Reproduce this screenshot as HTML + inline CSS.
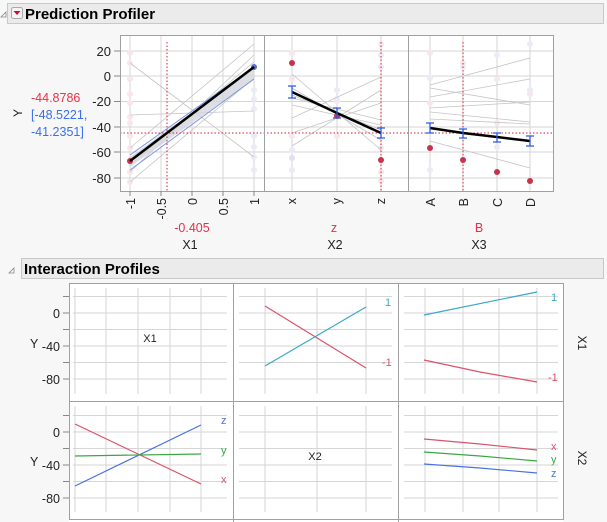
<!DOCTYPE html>
<html><head><style>
body{margin:0;background:#f7f7f7;}
svg{display:block;font-family:"Liberation Sans",sans-serif;}
</style></head><body>
<svg width="607" height="522" viewBox="0 0 607 522" xmlns="http://www.w3.org/2000/svg">
<rect width="607" height="522" fill="#f7f7f7"/>
<!-- header 1 -->
<rect x="7.5" y="3.5" width="596" height="20" fill="#ebebeb" stroke="#c8c8c8"/>
<path d="M1 17 L6 12 L6 17 Z" fill="none" stroke="#888" stroke-width="0.8"/>
<rect x="11.5" y="7.5" width="11" height="11" rx="2" fill="#f4f4f4" stroke="#aaa"/>
<path d="M13.5 11 L20.5 11 L17 15 Z" fill="#c8102e"/>
<text x="25" y="19" font-size="15" font-weight="bold" fill="#000">Prediction Profiler</text>

<!-- profiler plot frames -->
<rect x="120" y="35" width="433" height="156" fill="#fff"/>
<g stroke="#d6d6d6" stroke-width="1">
<line x1="120" y1="51" x2="553" y2="51"/><line x1="120" y1="76" x2="553" y2="76"/>
<line x1="120" y1="101.5" x2="553" y2="101.5"/><line x1="120" y1="127" x2="553" y2="127"/>
<line x1="120" y1="152" x2="553" y2="152"/><line x1="120" y1="178" x2="553" y2="178"/>
<line x1="130" y1="35" x2="130" y2="191"/><line x1="161" y1="35" x2="161" y2="191"/><line x1="192" y1="35" x2="192" y2="191"/><line x1="223" y1="35" x2="223" y2="191"/><line x1="254" y1="35" x2="254" y2="191"/>
<line x1="292" y1="35" x2="292" y2="191"/><line x1="337" y1="35" x2="337" y2="191"/><line x1="381" y1="35" x2="381" y2="191"/>
<line x1="430" y1="35" x2="430" y2="191"/><line x1="463" y1="35" x2="463" y2="191"/><line x1="497" y1="35" x2="497" y2="191"/><line x1="530" y1="35" x2="530" y2="191"/>
</g>
<!-- faint points -->
<g fill="#f7e6ea">
<circle cx="130" cy="53" r="3"/><circle cx="130" cy="63" r="3"/><circle cx="130" cy="79" r="3"/><circle cx="130" cy="94" r="3"/><circle cx="130" cy="103" r="3"/><circle cx="130" cy="117" r="3"/><circle cx="130" cy="123" r="3"/><circle cx="130" cy="136" r="3"/><circle cx="130" cy="148" r="3"/><circle cx="130" cy="172" r="3"/><circle cx="130" cy="182" r="3"/>
<circle cx="292" cy="53" r="3"/><circle cx="292" cy="79" r="3"/><circle cx="292" cy="136" r="3"/><circle cx="337" cy="101" r="3"/><circle cx="337" cy="136" r="3"/><circle cx="381" cy="148" r="3"/><circle cx="381" cy="172" r="3"/><circle cx="381" cy="181" r="3"/>
<circle cx="430" cy="53" r="3"/><circle cx="430" cy="103" r="3"/><circle cx="463" cy="63" r="3"/><circle cx="497" cy="79" r="3"/><circle cx="497" cy="123" r="3"/><circle cx="530" cy="94" r="3"/>
</g>
<g fill="#eaebf6">
<circle cx="254" cy="90" r="3"/><circle cx="254" cy="99" r="3"/><circle cx="254" cy="109" r="3"/><circle cx="254" cy="136" r="3"/><circle cx="254" cy="147" r="3"/><circle cx="254" cy="157" r="3"/><circle cx="254" cy="170" r="3"/>
<circle cx="292" cy="150" r="3"/><circle cx="292" cy="170" r="3"/><circle cx="337" cy="90" r="3"/><circle cx="337" cy="99" r="3"/><circle cx="381" cy="44" r="3"/><circle cx="381" cy="55" r="3"/><circle cx="381" cy="67" r="3"/>
<circle cx="430" cy="78" r="3"/><circle cx="430" cy="170" r="3"/><circle cx="463" cy="67" r="3"/><circle cx="497" cy="55" r="3"/><circle cx="497" cy="147" r="3"/><circle cx="530" cy="44" r="3"/><circle cx="530" cy="90" r="3"/>
<circle cx="292" cy="158" r="3" fill="#dfe2f3"/>
</g>
<!-- gray lines -->
<g stroke="#c4c4c4" stroke-width="0.8">
<line x1="130" y1="63" x2="254" y2="157"/><line x1="130" y1="115" x2="254" y2="111"/>
<line x1="130" y1="148" x2="254" y2="44"/><line x1="130" y1="172" x2="254" y2="55"/><line x1="130" y1="182" x2="254" y2="78"/><line x1="130" y1="158" x2="254" y2="68"/><line x1="130" y1="165" x2="254" y2="62"/>
<line x1="292" y1="74" x2="381" y2="150"/><line x1="292" y1="118" x2="381" y2="77"/><line x1="292" y1="146" x2="381" y2="90"/><line x1="292" y1="98" x2="381" y2="120"/><line x1="292" y1="105" x2="381" y2="125"/><line x1="292" y1="88" x2="381" y2="140"/><line x1="292" y1="95" x2="381" y2="130"/><line x1="292" y1="133" x2="381" y2="103"/>
<line x1="430" y1="85" x2="530" y2="58"/><line x1="430" y1="88" x2="530" y2="105"/><line x1="430" y1="97" x2="530" y2="79"/><line x1="430" y1="108" x2="530" y2="102"/><line x1="430" y1="112" x2="530" y2="122"/><line x1="430" y1="119" x2="530" y2="124"/><line x1="430" y1="141" x2="530" y2="168"/><line x1="430" y1="128" x2="530" y2="141"/>
</g>
<!-- confidence band panel1 -->
<polygon points="130,157 254,68 254,79 130,167" fill="#d4d6dc" opacity="0.8"/>
<line x1="130" y1="155" x2="254" y2="67" stroke="#7b96e0" stroke-width="1"/>
<line x1="130" y1="170" x2="254" y2="79" stroke="#7b96e0" stroke-width="1"/>
<!-- dotted crosshairs -->
<g stroke="#d0203a" stroke-width="1" stroke-dasharray="1.5,2">
<line x1="120" y1="133" x2="553" y2="133"/>
<line x1="167" y1="42" x2="167" y2="191"/>
<line x1="381" y1="42" x2="381" y2="191"/>
<line x1="463" y1="42" x2="463" y2="191"/>
</g>
<!-- red points -->
<g fill="#c8324a"><circle cx="130" cy="161" r="3"/><circle cx="292" cy="63" r="3"/><circle cx="337" cy="116" r="3"/><circle cx="381" cy="160" r="3"/><circle cx="430" cy="148" r="3"/><circle cx="463" cy="160" r="3"/><circle cx="497" cy="172" r="3"/><circle cx="530" cy="181" r="3"/></g>
<circle cx="254" cy="67" r="3" fill="#5a6fd0"/>
<!-- black lines -->
<g stroke="#000" stroke-width="2.5" fill="none">
<line x1="130" y1="161" x2="254" y2="67"/>
<polyline points="292,92 337,113 381,133"/>
<polyline points="430,128 463,133 497,137 530,141"/>
</g>
<!-- error bars -->
<g stroke="#2a5be8" stroke-width="1.3" fill="none">
<path d="M292 86V98M288 86H296M288 98H296"/>
<path d="M337 108V118M333 108H341M333 118H341"/>
<path d="M381 128V138M377 128H385M377 138H385"/>
<path d="M430 123V133M426 123H434M426 133H434"/>
<path d="M463 129V138M459 129H467M459 138H467"/>
<path d="M497 133V142M493 133H501M493 142H501"/>
<path d="M530 136V146M526 136H534M526 146H534"/>
</g>
<!-- frames -->
<g fill="none" stroke="#a0a0a0" stroke-width="1">
<rect x="120.5" y="35.5" width="433" height="156"/>
<line x1="264.5" y1="35" x2="264.5" y2="191"/><line x1="408.5" y1="35" x2="408.5" y2="191"/>
</g>
<!-- y ticks -->
<g stroke="#888"><line x1="114" y1="51" x2="120" y2="51"/><line x1="114" y1="76" x2="120" y2="76"/><line x1="114" y1="101.5" x2="120" y2="101.5"/><line x1="114" y1="127" x2="120" y2="127"/><line x1="114" y1="152" x2="120" y2="152"/><line x1="114" y1="178" x2="120" y2="178"/>
<line x1="130" y1="191" x2="130" y2="196"/><line x1="161" y1="191" x2="161" y2="196"/><line x1="192" y1="191" x2="192" y2="196"/><line x1="223" y1="191" x2="223" y2="196"/><line x1="254" y1="191" x2="254" y2="196"/></g>
<g font-size="13" fill="#222" text-anchor="end">
<text x="111" y="56">20</text><text x="111" y="81">0</text><text x="111" y="106">-20</text><text x="111" y="132">-40</text><text x="111" y="157">-60</text><text x="111" y="183">-80</text>
</g>
<text transform="translate(22,113) rotate(-90)" font-size="12" text-anchor="middle" fill="#222">Y</text>
<text x="31" y="102" font-size="12.5" fill="#e8304a">-44.8786</text>
<text x="31" y="119" font-size="12.5" fill="#3a6ff0">[-48.5221,</text>
<text x="31" y="136" font-size="12.5" fill="#3a6ff0">-41.2351]</text>
<!-- rotated x tick labels -->
<g font-size="12.5" fill="#222" text-anchor="end">
<text transform="translate(135,198) rotate(-90)">-1</text>
<text transform="translate(166,198) rotate(-90)">-0.5</text>
<text transform="translate(197,198) rotate(-90)">0</text>
<text transform="translate(228,198) rotate(-90)">0.5</text>
<text transform="translate(259,198) rotate(-90)">1</text>
<text transform="translate(296,198) rotate(-90)">x</text>
<text transform="translate(341,198) rotate(-90)">y</text>
<text transform="translate(385,198) rotate(-90)">z</text>
<text transform="translate(435,198) rotate(-90)">A</text>
<text transform="translate(468,198) rotate(-90)">B</text>
<text transform="translate(502,198) rotate(-90)">C</text>
<text transform="translate(535,198) rotate(-90)">D</text>
</g>
<g font-size="12.5" text-anchor="middle">
<text x="192" y="232" fill="#e8304a">-0.405</text><text x="334" y="232" fill="#e8304a">z</text><text x="479" y="232" fill="#e8304a">B</text>
<text x="190" y="249" fill="#222">X1</text><text x="335" y="249" fill="#222">X2</text><text x="479" y="249" fill="#222">X3</text>
</g>

<!-- header 2 -->
<rect x="21.5" y="258.5" width="582" height="20" fill="#ebebeb" stroke="#c8c8c8"/>
<path d="M9 273 L14 268 L14 273 Z" fill="none" stroke="#888" stroke-width="0.8"/>
<text x="24" y="274" font-size="15" font-weight="bold" fill="#000">Interaction Profiles</text>

<!-- interaction grid -->
<rect x="69" y="283" width="494" height="239" fill="#fff"/>
<g stroke="#d6d6d6" stroke-width="1">
<path d="M73 296.5H227M73 313H227M73 329.5H227M73 346H227M73 362.5H227M73 379H227"/>
<path d="M239 296.5H392M239 313H392M239 329.5H392M239 346H392M239 362.5H392M239 379H392"/>
<path d="M404 296.5H558M404 313H558M404 329.5H558M404 346H558M404 362.5H558M404 379H558"/>
<path d="M73 415.5H227M73 432H227M73 448.5H227M73 465H227M73 481.5H227M73 498H227"/>
<path d="M239 415.5H392M239 432H392M239 448.5H392M239 465H392M239 481.5H392M239 498H392"/>
<path d="M404 415.5H558M404 432H558M404 448.5H558M404 465H558M404 481.5H558M404 498H558"/>
<path d="M75 288V394M106 288V394M138 288V394M170 288V394M201 288V394M265 288V394M317 288V394M366 288V394M425 288V394M463 288V394M499 288V394M537 288V394"/>
<path d="M75 406V512M106 406V512M138 406V512M170 406V512M201 406V512M265 406V512M317 406V512M366 406V512M425 406V512M463 406V512M499 406V512M537 406V512"/>
</g>
<g fill="none" stroke="#a0a0a0">
<rect x="69.5" y="283.5" width="494" height="236"/>
<line x1="233.5" y1="283" x2="233.5" y2="522"/><line x1="398.5" y1="283" x2="398.5" y2="522"/>
<line x1="69" y1="401.5" x2="563" y2="401.5"/>
</g>
<g stroke="#888"><path d="M63 296.5H69M63 313H69M63 329.5H69M63 346H69M63 362.5H69M63 379H69M63 415.5H69M63 432H69M63 448.5H69M63 465H69M63 481.5H69M63 498H69"/></g>
<g font-size="12.5" fill="#222" text-anchor="end">
<text x="60" y="318">0</text><text x="60" y="351">-40</text><text x="60" y="384">-80</text>
<text x="60" y="437">0</text><text x="60" y="470">-40</text><text x="60" y="503">-80</text>
</g>
<text x="30" y="348" font-size="12.5" fill="#222">Y</text>
<text x="30" y="466" font-size="12.5" fill="#222">Y</text>
<text x="150" y="342" font-size="11" fill="#222" text-anchor="middle">X1</text>
<text x="315" y="460" font-size="11" fill="#222" text-anchor="middle">X2</text>
<text transform="translate(578,343) rotate(90)" font-size="12" fill="#222" text-anchor="middle">X1</text>
<text transform="translate(578,458) rotate(90)" font-size="12" fill="#222" text-anchor="middle">X2</text>
<g stroke-width="1.2" fill="none">
<line x1="265" y1="306" x2="366" y2="368" stroke="#d9546a"/>
<line x1="265" y1="366" x2="366" y2="307" stroke="#3aa8c8"/>
<line x1="424" y1="315" x2="537" y2="292" stroke="#3aa8c8"/>
<polyline points="424,360 480,372 537,382" stroke="#d9546a"/>
<line x1="75" y1="424" x2="201" y2="484" stroke="#d9546a"/>
<line x1="75" y1="486" x2="201" y2="425" stroke="#4a72e0"/>
<line x1="75" y1="456" x2="201" y2="454" stroke="#3aa840"/>
<polyline points="424,439 480,444 537,450" stroke="#d9546a"/>
<polyline points="424,452 480,456 537,461" stroke="#3aa840"/>
<polyline points="424,464 480,468 537,473" stroke="#4a72e0"/>
</g>
<g font-size="11">
<text x="385" y="306" fill="#3aa8c8">1</text><text x="382" y="366" fill="#d9546a">-1</text>
<text x="551" y="301" fill="#3aa8c8">1</text><text x="548" y="381" fill="#d9546a">-1</text>
<text x="221" y="424" fill="#4a72e0">z</text><text x="221" y="454" fill="#3aa840">y</text><text x="221" y="483" fill="#d9546a">x</text>
<text x="551" y="450" fill="#d9546a">x</text><text x="551" y="463" fill="#3aa840">y</text><text x="551" y="477" fill="#4a72e0">z</text>
</g>
</svg>
</body></html>
